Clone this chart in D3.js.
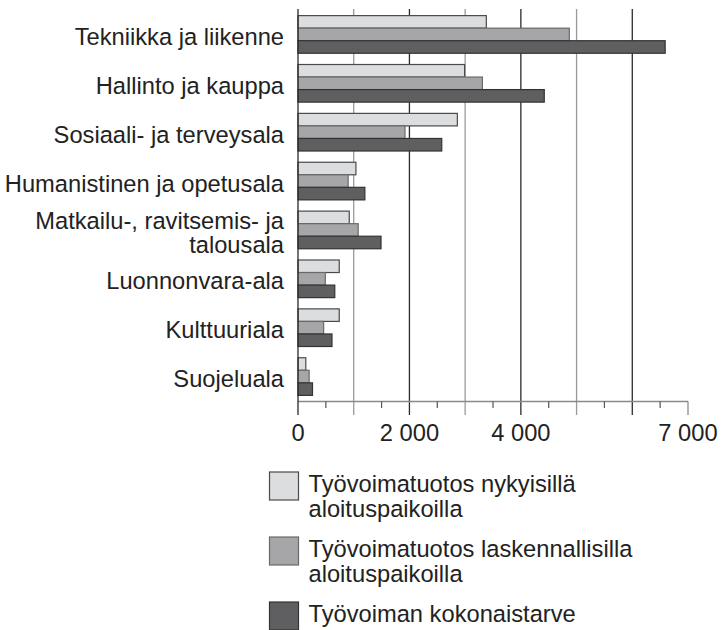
<!DOCTYPE html>
<html>
<head>
<meta charset="utf-8">
<script src="https://cdn.jsdelivr.net/npm/d3@7"></script>
<style>
  body { margin: 0; background: #fff; }
  svg { display: block; font-family: "Liberation Sans", Arial, sans-serif; }
</style>
</head>
<body>
<svg id="chart" width="723" height="630"></svg>
<script>
const categories = [
  ["Tekniikka ja liikenne"],
  ["Hallinto ja kauppa"],
  ["Sosiaali- ja terveysala"],
  ["Humanistinen ja opetusala"],
  ["Matkailu-, ravitsemis- ja", "talousala"],
  ["Luonnonvara-ala"],
  ["Kulttuuriala"],
  ["Suojeluala"]
];

const seriesNames = [
  ["Työvoimatuotos nykyisillä", "aloituspaikoilla"],
  ["Työvoimatuotos laskennallisilla", "aloituspaikoilla"],
  ["Työvoiman kokonaistarve"]
];

// values per category, same order as categories
const nykyiset = [3380, 2990, 2860, 1040, 920, 740, 740, 140];
const laskennalliset = [4870, 3310, 1920, 900, 1080, 490, 460, 200];
const kokonaistarve = [6590, 4420, 2580, 1200, 1490, 660, 610, 260];

const tickValues = [0, 2000, 4000, 7000];

const fills = ["#dcdddf", "#a6a6a9", "#5f5f62"];
const strokes = ["#4a4a4a", "#6a6a6a", "#333333"];
const FONT = 23.7;

const svg = d3.select("#chart");
const fmt = d3.formatLocale({ decimal: ",", thousands: " ", grouping: [3], currency: ["", " €"] }).format(",d");

const catKeys = categories.map(d => d.join(" "));
const seriesData = [nykyiset, laskennalliset, kokonaistarve];

const x = d3.scaleLinear().domain([0, 7000]).range([298, 688]);
const y = d3.scaleBand().domain(catKeys).range([10, 401]).paddingInner(0.23).paddingOuter(0.115);
const ySub = d3.scaleBand().domain([0, 1, 2]).range([0, y.bandwidth()]);

// gridlines every 1000, alternating grey / black
const grid = d3.range(1000, 7000, 1000);
svg.append("g").selectAll("line")
  .data(grid)
  .join("line")
  .attr("x1", d => x(d)).attr("x2", d => x(d))
  .attr("y1", 9).attr("y2", 415)
  .attr("stroke", d => (d / 1000) % 2 ? "#9a9a9a" : "#2a2a2a")
  .attr("stroke-width", 1.3);

// bars
const groups = svg.append("g").selectAll("g")
  .data(catKeys)
  .join("g")
  .attr("transform", d => `translate(0,${y(d)})`);

groups.selectAll("rect")
  .data((d, i) => seriesData.map((s, j) => ({ s: j, v: s[i] })))
  .join("rect")
  .attr("x", x(0))
  .attr("y", d => ySub(d.s))
  .attr("width", d => x(d.v) - x(0))
  .attr("height", ySub.bandwidth())
  .attr("fill", d => fills[d.s])
  .attr("stroke", d => strokes[d.s])
  .attr("stroke-width", 1.2);

// bottom axis
const axis = svg.append("g");
axis.append("line")
  .attr("x1", x(0)).attr("x2", x(7000))
  .attr("y1", 401.5).attr("y2", 401.5)
  .attr("stroke", "#8a8a8a").attr("stroke-width", 1.3);

axis.selectAll("line.minor")
  .data(d3.range(500, 7000, 1000))
  .join("line")
  .attr("class", "minor")
  .attr("x1", d => x(d)).attr("x2", d => x(d))
  .attr("y1", 401.5).attr("y2", 408)
  .attr("stroke", "#555").attr("stroke-width", 1.2);

axis.selectAll("line.end")
  .data([7000])
  .join("line")
  .attr("class", "end")
  .attr("x1", d => x(d)).attr("x2", d => x(d))
  .attr("y1", 401.5).attr("y2", 415)
  .attr("stroke", "#8a8a8a").attr("stroke-width", 1.3);

// left axis line
svg.append("line")
  .attr("x1", x(0)).attr("x2", x(0))
  .attr("y1", 9).attr("y2", 415)
  .attr("stroke", "#2a2a2a").attr("stroke-width", 1.3);

axis.selectAll("text")
  .data(tickValues)
  .join("text")
  .attr("x", d => x(d))
  .attr("y", 441)
  .attr("text-anchor", "middle")
  .attr("font-size", FONT)
  .attr("fill", "#222")
  .text(d => fmt(d));

// category labels
const labels = svg.append("g").selectAll("text")
  .data(categories)
  .join("text")
  .attr("text-anchor", "end")
  .attr("font-size", FONT)
  .attr("fill", "#222")
  .attr("transform", (d, i) => `translate(284,${y(catKeys[i]) + y.bandwidth() / 2 + 10.6 - (d.length - 1) * 12})`);

labels.selectAll("tspan")
  .data(d => d)
  .join("tspan")
  .attr("x", 0)
  .attr("y", (d, i) => i * 24)
  .text(d => d);

// legend
const legendTop = [472, 537, 602];
const legend = svg.append("g").selectAll("g")
  .data(seriesNames)
  .join("g")
  .attr("transform", (d, i) => `translate(269.5,${legendTop[i]})`);

legend.append("rect")
  .attr("width", 29).attr("height", 28)
  .attr("fill", (d, i) => fills[i])
  .attr("stroke", (d, i) => strokes[i])
  .attr("stroke-width", 1.2);

legend.append("text")
  .attr("font-size", FONT)
  .attr("fill", "#222")
  .selectAll("tspan")
  .data(d => d)
  .join("tspan")
  .attr("x", 39)
  .attr("y", (d, i) => 20 + i * 25)
  .text(d => d);
</script>
</body>
</html>
